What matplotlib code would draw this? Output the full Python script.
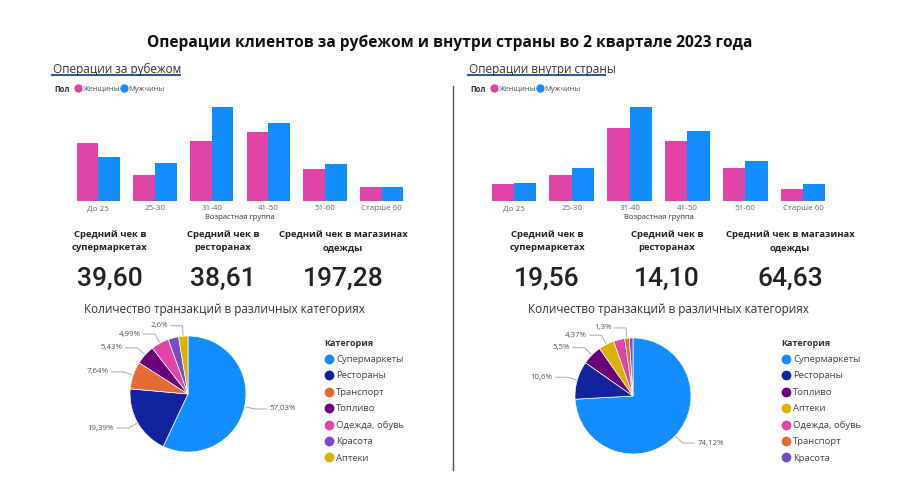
import numpy as np
import matplotlib
matplotlib.use("Agg")
import matplotlib.pyplot as plt
from matplotlib.lines import Line2D

plt.rcParams['font.family'] = ['Open Sans', 'DejaVu Sans']

W, H = 900, 487

# данные
age_groups = ["До 25", "25-30", "31-40", "41-50", "51-60", "Старше 60"]
abroad_f = [169, 75, 177, 202, 93, 40]
abroad_m = [129, 112, 277, 228, 109, 40]
home_f = [48, 72, 205, 169, 91, 34]
home_m = [50, 91, 264, 196, 112, 47]

kpi_titles = ["Средний чек в\nсупермаркетах", "Средний чек в\nресторанах",
              "Средний чек в магазинах\nодежды"]
abroad_kpi = ["39,60", "38,61", "197,28"]
home_kpi = ["19,56", "14,10", "64,63"]

abroad_cats = ["Супермаркеты", "Рестораны", "Транспорт", "Топливо",
               "Одежда, обувь", "Красота", "Аптеки"]
abroad_share = [57.03, 19.39, 7.64, 5.43, 4.99, 2.92, 2.6]
abroad_lbl = ["57,03%", "19,39%", "7,64%", "5,43%", "4,99%", "", "2,6%"]

home_cats = ["Супермаркеты", "Рестораны", "Топливо", "Аптеки",
             "Одежда, обувь", "Транспорт", "Красота"]
home_share = [74.12, 10.6, 5.5, 4.37, 3.11, 1.3, 1.0]
home_lbl = ["74,12%", "10,6%", "5,5%", "4,37%", "", "1,3%", ""]

cat_colors = {"Супермаркеты": "#118DFF", "Рестораны": "#12239E",
              "Транспорт": "#E66C37", "Топливо": "#6B007B",
              "Одежда, обувь": "#E044A7", "Красота": "#744EC2",
              "Аптеки": "#D9B300"}
c_f, c_m = "#E044A7", "#118DFF"


def rect(x0, y0, x1, y1):
    return [x0 / W, 1 - y1 / H, (x1 - x0) / W, (y1 - y0) / H]


def fx(x):
    return x / W


def fy(y):
    return 1 - y / H


fig = plt.figure(figsize=(9, 4.87), dpi=100)

fig.text(0.5, fy(43), "Операции клиентов за рубежом и внутри страны во 2 квартале 2023 года",
         ha="center", va="center", fontsize=11.2, fontweight="bold", color="#111111")

# разделитель
fig.add_artist(Line2D([fx(453), fx(453)], [fy(86), fy(470)], color="#555555", lw=1))


def panel(x_left, header, ul_end, bar_x0, bar_x1, fem, mal,
          kpi_x, kpi_vals, pie_cx, pie_cy, title_x, cats, shares, lbls, leg_x):
    # заголовок панели
    fig.text(fx(x_left), fy(69), header, ha="left", va="center", fontsize=8.5, color="#333333")
    fig.add_artist(Line2D([fx(x_left - 1), fx(ul_end)], [fy(74.5), fy(74.5)],
                          color="#2E5E9E", lw=1.5))

    # легенда пол
    fig.text(fx(x_left + 1), fy(89), "Пол", ha="left", va="center", fontsize=5.5,
             fontweight="bold", color="#333333")
    hs = [Line2D([], [], marker="o", ls="", color=c_f, markersize=5),
          Line2D([], [], marker="o", ls="", color=c_m, markersize=5)]
    fig.legend(hs, ["Женщины", "Мужчины"], loc="center left",
               bbox_to_anchor=(fx(x_left + 18), fy(89)), ncol=2, frameon=False,
               fontsize=5.5, handletextpad=0.1, columnspacing=0.3, borderpad=0,
               handlelength=0.8, labelcolor="#555555")

    # столбцы
    ax = fig.add_axes(rect(bar_x0, 100, bar_x1, 201))
    x = np.arange(len(age_groups))
    w = 0.385
    ax.bar(x - w / 2, fem, w, color=c_f)
    ax.bar(x + w / 2, mal, w, color=c_m)
    ax.set_xlim(-0.5, len(age_groups) - 0.5)
    ax.set_ylim(0, max(max(fem), max(mal)) * 1.07)
    ax.set_yticks([])
    ax.set_xticks(x)
    ax.set_xticklabels(age_groups, fontsize=5.8, color="#666666")
    ax.tick_params(axis="x", length=0, pad=3)
    for s in ax.spines.values():
        s.set_visible(False)
    ax.set_xlabel("Возрастная группа", fontsize=5.5, color="#333333", labelpad=1)

    # KPI
    for i in range(3):
        fig.text(fx(kpi_x[i]), fy(241), kpi_titles[i], ha="center", va="center",
                 fontsize=6.8, fontweight="bold", color="#222222", linespacing=1.6)
        fig.text(fx(kpi_x[i]), fy(279), kpi_vals[i], ha="center", va="center",
                 fontsize=19, fontweight="medium", color="#222222", family="Roboto")

    fig.text(fx(title_x), fy(309), "Количество транзакций в различных категориях",
             ha="center", va="center", fontsize=8.5, color="#333333")

    # круговая
    R = 58
    half = 100
    pax = fig.add_axes(rect(pie_cx - half, pie_cy - half, pie_cx + half, pie_cy + half))
    cols = [cat_colors[c] for c in cats]
    wedges, _ = pax.pie(shares, colors=cols, startangle=90, counterclock=False,
                        radius=1.0, wedgeprops=dict(linewidth=0.5, edgecolor="white"))
    k = half / R
    pax.set_xlim(-k, k)
    pax.set_ylim(-k, k)
    pax.set_aspect("equal")
    pax.axis("off")
    for wd, lb in zip(wedges, lbls):
        if not lb:
            continue
        ang = np.deg2rad((wd.theta1 + wd.theta2) / 2)
        cx, cy = np.cos(ang), np.sin(ang)
        p0 = (1.02 * cx, 1.02 * cy)
        p1 = (1.18 * cx, 1.18 * cy)
        sgn = 1 if cx >= 0 else -1
        p2 = (p1[0] + sgn * 0.2, p1[1])
        pax.plot([p0[0], p1[0], p2[0]], [p0[1], p1[1], p2[1]], color="#AAAAAA",
                 lw=0.7, clip_on=False)
        pax.text(p2[0] + sgn * 0.05, p2[1], lb, ha="left" if sgn > 0 else "right",
                 va="center", fontsize=5.7, color="#555555", clip_on=False)

    handles = [Line2D([], [], marker="o", ls="", color=c, markersize=6) for c in cols]
    leg = fig.legend(handles, cats, loc="upper left", bbox_to_anchor=(fx(leg_x), fy(334)),
                     frameon=False, fontsize=6.8, title="Категория", alignment="left",
                     handletextpad=0.2, handlelength=1.0, labelspacing=0.78,
                     borderpad=0, labelcolor="#444444")
    leg.get_title().set_fontsize(6.5)
    leg.get_title().set_fontweight("bold")
    leg.get_title().set_color("#333333")


panel(53, "Операции за рубежом", 180, 70, 410, abroad_f, abroad_m,
      [110, 223, 343], abroad_kpi, 188, 394, 224, abroad_cats, abroad_share, abroad_lbl, 320)
panel(469, "Операции внутри страны", 605, 485, 832, home_f, home_m,
      [547, 667, 790], home_kpi, 633, 396, 668, home_cats, home_share, home_lbl, 777)

fig.savefig("out.png", dpi=100, facecolor="white")
